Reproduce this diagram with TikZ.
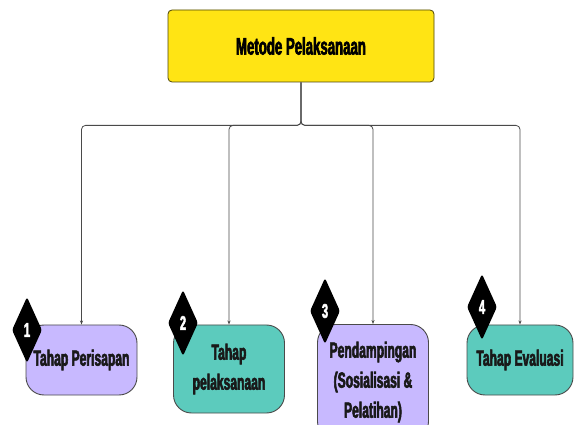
\documentclass[tikz,border=0pt]{standalone}
\usepackage{fontspec}
\setmainfont{Liberation Sans}[FakeStretch=0.55, BoldFeatures={FakeBold=2.5}]
\usepackage{tikz}
\usetikzlibrary{shapes.geometric, arrows.meta, positioning}

\definecolor{topyellow}{HTML}{FFE414}
\definecolor{lavender}{HTML}{C8B9FF}
\definecolor{tealbox}{HTML}{5CCBBD}
\definecolor{linegray}{HTML}{4A4A4A}

\tikzset{
    stage/.style={draw=linegray, line width=0.9pt, rounded corners=18pt,
        minimum width=111pt, align=center, inner sep=2pt,
        font=\fontsize{22}{30}\selectfont\bfseries, text=black!90},
    badge/.style={shape=diamond, fill=black, rounded corners=2.5pt,
        minimum width=30pt, minimum height=66pt, inner sep=0pt,
        text=white, font=\fontsize{20}{20}\selectfont\bfseries},
    link/.style={draw=linegray, line width=0.8pt, rounded corners=4pt,
        -{Stealth[length=4pt,width=3pt]}}
}

\begin{document}
\begin{tikzpicture}[x=1pt, y=-1pt]
    \useasboundingbox (0,0) rectangle (574,425);
    \clip (0,0) rectangle (574,425);

    \node[draw=black!70!topyellow, fill=topyellow, line width=0.8pt, rounded corners=4pt,
        minimum width=266pt, minimum height=72pt,
        font=\fontsize{24}{24}\selectfont\bfseries] (top) at (301,46) {Metode Pelaksanaan};

    \node[stage, fill=lavender, minimum height=70pt] (b1) at (81.5,360) {Tahap Perisapan};
    \node[stage, fill=tealbox, minimum height=88pt] (b2) at (229,369) {Tahap\\pelaksanaan};
    \node[stage, fill=lavender, minimum height=115pt] (b3) at (373,382) {Pendampingan\\(Sosialisasi \&\\Pelatihan)};
    \node[stage, fill=tealbox, minimum height=70pt, minimum width=106pt] (b4) at (520,360) {Tahap Evaluasi};

    \node[badge] (n1) at (27,330) {1};
    \node[badge] (n2) at (183,323) {2};
    \node[badge] (n3) at (325,311) {3};
    \node[badge] (n4) at (482,307) {4};

    \foreach \b in {b1,b2,b3,b4}
        \draw[link] (top.south) -- ++(0,43) -| (\b.north);
\end{tikzpicture}
\end{document}
